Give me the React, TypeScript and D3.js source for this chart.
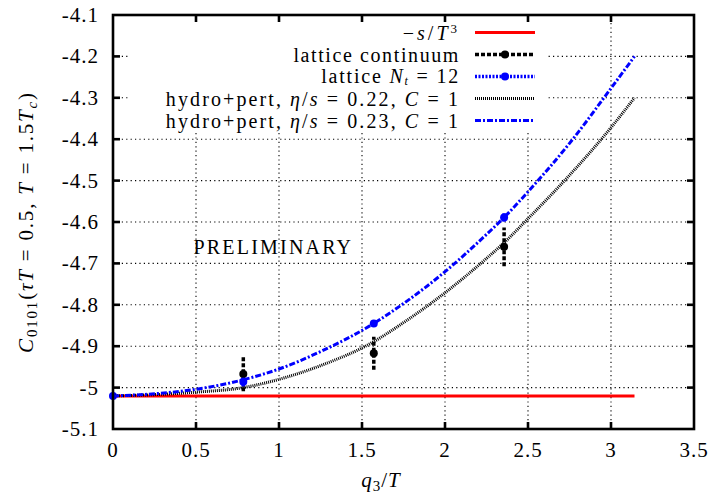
import React from "react";
import * as d3 from "d3";

const X_TICKS = [0, 0.5, 1, 1.5, 2, 2.5, 3, 3.5];
const X_TICK_LABELS = ["0", "0.5", "1", "1.5", "2", "2.5", "3", "3.5"];
const Y_TICKS = [-5.1, -5.0, -4.9, -4.8, -4.7, -4.6, -4.5, -4.4, -4.3, -4.2, -4.1];
const Y_TICK_LABELS = ["-5.1", "-5", "-4.9", "-4.8", "-4.7", "-4.6", "-4.5", "-4.4", "-4.3", "-4.2", "-4.1"];

// -s/T^3
const ENTROPY_X = [0, 3.1416];
const ENTROPY_Y = [-5.02, -5.02];

// lattice continuum
const LAT_CONT_X = [0.785, 1.571, 2.356];
const LAT_CONT_Y = [-4.967, -4.917, -4.66];
const LAT_CONT_ERR = [0.042, 0.04, 0.047];

// lattice N_t = 12
const LAT12_X = [0, 0.785, 1.571, 2.356];
const LAT12_Y = [-5.02, -4.986, -4.845, -4.589];
const LAT12_ERR = [0.003, 0.012, 0.008, 0.01];

// hydro+pert curves
const HYDRO_X = [0, 0.25, 0.5, 0.785, 1.0, 1.25, 1.571, 1.75, 2.0, 2.25, 2.356, 2.5, 2.75, 3.0, 3.1416];
const HYDRO_022 = [-5.02, -5.017, -5.011, -5.0, -4.98, -4.947, -4.889, -4.843, -4.771, -4.688, -4.65, -4.592, -4.487, -4.372, -4.3];
const HYDRO_023 = [-5.02, -5.015, -5.004, -4.981, -4.955, -4.913, -4.845, -4.797, -4.72, -4.63, -4.589, -4.527, -4.41, -4.277, -4.2];

const FONT = "Liberation Serif, DejaVu Serif, serif";

export default function App() {
  const W = 712;
  const H = 496;
  const x = d3.scaleLinear().domain([0, 3.5]).range([113, 694]);
  const y = d3.scaleLinear().domain([-5.1, -4.1]).range([429, 15]);
  const [x0, x1] = x.range();
  const [y0, y1] = y.range();

  const line = d3
    .line<[number, number]>()
    .x((d) => x(d[0]))
    .y((d) => y(d[1]));
  const smooth = d3
    .line<[number, number]>()
    .x((d) => x(d[0]))
    .y((d) => y(d[1]))
    .curve(d3.curveMonotoneX);

  const zip = (a: number[], b: number[]) => a.map((v, i) => [v, b[i]] as [number, number]);

  const gridStyle = { stroke: "#000", strokeWidth: 1.1, strokeDasharray: "1.2,3.2" };

  // legend geometry
  const legTextX = 460;
  const legS0 = 475;
  const legS1 = 535;
  const legRows = [32.5, 54.5, 76.5, 98.5, 120.5];
  const tfs = 21;
  const lfs = 20;

  return (
    <svg
      width={W}
      height={H}
      viewBox={`0 0 ${W} ${H}`}
      style={{ position: "absolute", left: 0, top: 0, background: "#fff", fontFamily: FONT }}
    >
      <rect x={0} y={0} width={W} height={H} fill="#fff" />
      {/* grid */}
      <g>
        {X_TICKS.slice(1, -1).map((t) => (
          <line key={"gx" + t} x1={x(t)} x2={x(t)} y1={y0} y2={y1} style={gridStyle} />
        ))}
        {Y_TICKS.slice(1, -1).map((t) => (
          <line key={"gy" + t} x1={x0} x2={x1} y1={y(t)} y2={y(t)} style={gridStyle} />
        ))}
      </g>

      {/* opaque key box */}
      <rect x={128} y={17} width={418} height={114} fill="#fff" />

      {/* -s/T^3 */}
      <path d={line(zip(ENTROPY_X, ENTROPY_Y)) || ""} fill="none" stroke="#ff0000" strokeWidth={3} />

      {/* lattice continuum error bars */}
      <g>
        {LAT_CONT_X.map((v, i) => (
          <g key={"lc" + i}>
            <line
              x1={x(v)}
              x2={x(v)}
              y1={y(LAT_CONT_Y[i] - LAT_CONT_ERR[i])}
              y2={y(LAT_CONT_Y[i] + LAT_CONT_ERR[i])}
              stroke="#000"
              strokeWidth={3.5}
              strokeDasharray="4,2"
            />
            <circle cx={x(v)} cy={y(LAT_CONT_Y[i])} r={4} fill="#000" />
          </g>
        ))}
      </g>

      {/* lattice Nt=12 */}
      <g>
        {LAT12_X.map((v, i) => (
          <g key={"l12" + i}>
            <line
              x1={x(v)}
              x2={x(v)}
              y1={y(LAT12_Y[i] - LAT12_ERR[i])}
              y2={y(LAT12_Y[i] + LAT12_ERR[i])}
              stroke="#0000ff"
              strokeWidth={3.5}
              strokeDasharray="2,1.5"
            />
            <circle cx={x(v)} cy={y(LAT12_Y[i])} r={4} fill="#0000ff" />
          </g>
        ))}
      </g>

      {/* hydro 0.22 */}
      <path
        d={smooth(zip(HYDRO_X, HYDRO_022)) || ""}
        fill="none"
        stroke="#000"
        strokeWidth={3}
        strokeDasharray="1,1"
      />
      {/* hydro 0.23 */}
      <path
        d={smooth(zip(HYDRO_X, HYDRO_023)) || ""}
        fill="none"
        stroke="#0000ff"
        strokeWidth={3}
        strokeDasharray="6,2,2,2"
      />

      {/* legend */}
      <g fontSize={lfs} textAnchor="end" fill="#000">
        <text x={legTextX} y={legRows[0] + 7} letterSpacing={3}>
          <tspan>−</tspan>
          <tspan fontStyle="italic">s</tspan>
          <tspan>/</tspan>
          <tspan fontStyle="italic">T</tspan>
          <tspan fontSize={13} dy={-7}>3</tspan>
        </text>
        <text x={legTextX} y={legRows[1] + 7} letterSpacing={1.6}>
          lattice continuum
        </text>
        <text x={legTextX} y={legRows[2] + 6} letterSpacing={1.8}>
          <tspan>lattice </tspan>
          <tspan fontStyle="italic">N</tspan>
          <tspan fontStyle="italic" fontSize={12} dy={2}>t</tspan>
          <tspan dy={-2}> = 12</tspan>
        </text>
        <text x={legTextX} y={legRows[3] + 7} letterSpacing={2.1}>
          <tspan>hydro+pert, </tspan>
          <tspan fontStyle="italic">η</tspan>
          <tspan>/</tspan>
          <tspan fontStyle="italic">s</tspan>
          <tspan> = 0.22, </tspan>
          <tspan fontStyle="italic">C</tspan>
          <tspan> = 1</tspan>
        </text>
        <text x={legTextX} y={legRows[4] + 7} letterSpacing={2.1}>
          <tspan>hydro+pert, </tspan>
          <tspan fontStyle="italic">η</tspan>
          <tspan>/</tspan>
          <tspan fontStyle="italic">s</tspan>
          <tspan> = 0.23, </tspan>
          <tspan fontStyle="italic">C</tspan>
          <tspan> = 1</tspan>
        </text>
      </g>
      <g>
        <line x1={legS0} x2={legS1} y1={legRows[0]} y2={legRows[0]} stroke="#ff0000" strokeWidth={3} />
        <line
          x1={legS0}
          x2={legS1}
          y1={legRows[1]}
          y2={legRows[1]}
          stroke="#000"
          strokeWidth={3.5}
          strokeDasharray="4,2"
        />
        <circle cx={(legS0 + legS1) / 2} cy={legRows[1]} r={4} fill="#000" />
        <line
          x1={legS0}
          x2={legS1}
          y1={legRows[2]}
          y2={legRows[2]}
          stroke="#0000ff"
          strokeWidth={3.5}
          strokeDasharray="2,1.5"
        />
        <circle cx={(legS0 + legS1) / 2} cy={legRows[2]} r={4} fill="#0000ff" />
        <line
          x1={legS0}
          x2={legS1}
          y1={legRows[3]}
          y2={legRows[3]}
          stroke="#000"
          strokeWidth={3}
          strokeDasharray="1,1"
        />
        <line
          x1={legS0}
          x2={legS1}
          y1={legRows[4]}
          y2={legRows[4]}
          stroke="#0000ff"
          strokeWidth={3}
          strokeDasharray="6,2,2,2"
        />
      </g>

      {/* PRELIMINARY */}
      <text x={x(0.485)} y={y(-4.66) + 7} fontSize={20} letterSpacing={2.2}>
        PRELIMINARY
      </text>

      {/* frame */}
      <rect x={x0} y={y1} width={x1 - x0} height={y0 - y1} fill="none" stroke="#000" strokeWidth={2.6} />
      {/* ticks */}
      <g stroke="#000" strokeWidth={2.6}>
        {X_TICKS.slice(1, -1).map((t) => (
          <g key={"tx" + t}>
            <line x1={x(t)} x2={x(t)} y1={y0} y2={y0 - 7} />
            <line x1={x(t)} x2={x(t)} y1={y1} y2={y1 + 7} />
          </g>
        ))}
        {Y_TICKS.slice(1, -1).map((t) => (
          <g key={"ty" + t}>
            <line x1={x0} x2={x0 + 7} y1={y(t)} y2={y(t)} />
            <line x1={x1} x2={x1 - 7} y1={y(t)} y2={y(t)} />
          </g>
        ))}
      </g>

      {/* tick labels */}
      <g fontSize={tfs} fill="#000" textAnchor="middle">
        {X_TICKS.map((t, i) => (
          <text key={"lx" + t} x={x(t)} y={y0 + 28} letterSpacing={1}>
            {X_TICK_LABELS[i]}
          </text>
        ))}
      </g>
      <g fontSize={tfs} fill="#000" textAnchor="end">
        {Y_TICKS.map((t, i) => (
          <text key={"ly" + t} x={x0 - 14} y={y(t) + 7} letterSpacing={1}>
            {Y_TICK_LABELS[i]}
          </text>
        ))}
      </g>

      {/* axis labels */}
      <text x={381} y={487} fontSize={tfs} textAnchor="middle" letterSpacing={1}>
        <tspan fontStyle="italic">q</tspan>
        <tspan fontSize={15} dy={4}>3</tspan>
        <tspan dy={-4}>/</tspan>
        <tspan fontStyle="italic">T</tspan>
      </text>
      <text
        transform={`translate(33, ${(y0 + y1) / 2}) rotate(-90)`}
        fontSize={tfs}
        textAnchor="middle"
        letterSpacing={1.8}
      >
        <tspan fontStyle="italic">C</tspan>
        <tspan fontSize={15} dy={4}>0101</tspan>
        <tspan dy={-4}>(</tspan>
        <tspan fontStyle="italic">τT</tspan>
        <tspan> = 0.5, </tspan>
        <tspan fontStyle="italic">T</tspan>
        <tspan> = 1.5</tspan>
        <tspan fontStyle="italic">T</tspan>
        <tspan fontStyle="italic" fontSize={15} dy={4}>c</tspan>
        <tspan dy={-4}>)</tspan>
      </text>
    </svg>
  );
}
